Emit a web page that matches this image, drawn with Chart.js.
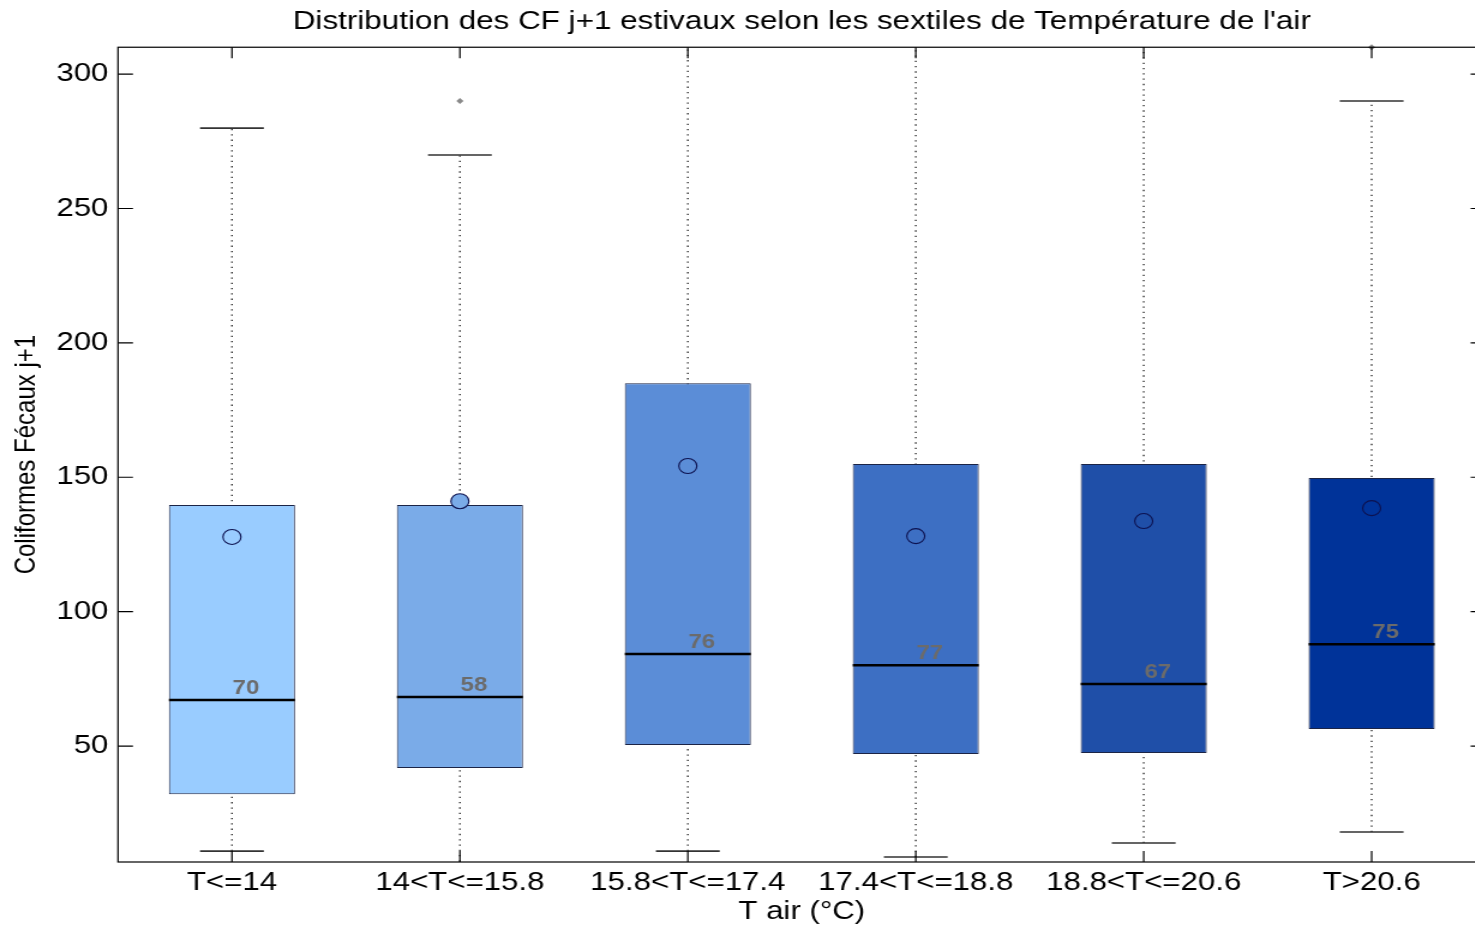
<!DOCTYPE html>
<html><head><meta charset="utf-8">
<script src="https://cdn.jsdelivr.net/npm/chart.js@4.4.1/dist/chart.umd.min.js"></script>
<style>
html,body{margin:0;padding:0;background:#fff;overflow:hidden;width:1475px;height:926px;}
#wrap{position:absolute;left:0;top:0;width:1250px;height:926px;transform:scaleX(1.2);transform-origin:0 0;}
</style></head><body>
<div id="wrap"><canvas id="c"></canvas></div>
<script>
const categories = ['T<=14','14<T<=15.8','15.8<T<=17.4','17.4<T<=18.8','18.8<T<=20.6','T>20.6'];
const whiskerLow  = [10.9, 5.0, 10.9, 8.7, 13.9, 18.0];
const q1          = [32.1, 41.8, 50.4, 47.0, 47.4, 56.3];
const median      = [67.1, 68.2, 84.2, 80.1, 73.1, 87.9];
const q3          = [139.7, 139.7, 185.0, 154.9, 154.9, 149.7];
const whiskerHigh = [279.9, 269.9, 330, 330, 330, 290.0];
const means       = [127.8, 141.1, 154.2, 128.1, 133.7, 138.5];
const counts      = [70, 58, 76, 77, 67, 75];
const outliers    = [[], [290], [], [], [], [310]];
const yTicks      = [50, 100, 150, 200, 250, 300];
const boxColors   = ['#99ccff', '#7aabe8', '#5b8dd7', '#3d6fc3', '#1f4fa8', '#003399'];

const BOX_HALF = 0.2765, CAP_HALF = 0.14, LABEL_SHIFT = 0.0615;

Chart.defaults.font.family = '"Liberation Sans", Arial, sans-serif';
Chart.defaults.color = '#000';

function hSegments(vals, half) {
  const pts = [];
  vals.forEach((v, i) => { pts.push({x: i + 1 - half, y: v}, {x: i + 1 + half, y: v}, {x: i + 1.5, y: null}); });
  return pts;
}
const whiskerPts = [];
categories.forEach((c, i) => { whiskerPts.push({x: i + 1, y: whiskerLow[i]}, {x: i + 1, y: whiskerHigh[i]}, {x: i + 1.5, y: null}); });
const capPts = hSegments(whiskerLow, CAP_HALF).concat(hSegments(whiskerHigh, CAP_HALF));
const medianPts = hSegments(median, BOX_HALF);
const boxPts = categories.map((c, i) => ({x: i + 1, y: [q1[i], q3[i]]}));
const meanPts = means.map((m, i) => ({x: i + 1, y: m}));
const outlierPts = outliers.flatMap((arr, i) => arr.map(v => ({x: i + 1, y: v})));

const frame = {
  id: 'frame',
  afterDatasetsDraw(chart) {
    const {ctx, chartArea: a, scales: {x, y}} = chart;
    ctx.save();
    ctx.font = 'bold 20px "Liberation Sans", Arial, sans-serif';
    ctx.fillStyle = '#6b6b6b';
    ctx.textAlign = 'center';
    ctx.textBaseline = 'alphabetic';
    counts.forEach((n, i) => {
      ctx.fillText(String(n), x.getPixelForValue(i + 1 + LABEL_SHIFT), y.getPixelForValue(median[i]) - 6);
    });
    ctx.strokeStyle = '#000';
    ctx.lineWidth = 1.2;
    ctx.strokeRect(a.left, a.top, a.right - a.left, a.bottom - a.top);
    ctx.beginPath();
    yTicks.forEach(v => {
      const py = y.getPixelForValue(v);
      ctx.moveTo(a.left, py); ctx.lineTo(a.left + 12.5, py);
      ctx.moveTo(a.right, py); ctx.lineTo(a.right - 12.5, py);
    });
    categories.forEach((c, i) => {
      const px = x.getPixelForValue(i + 1);
      ctx.moveTo(px, a.bottom); ctx.lineTo(px, a.bottom - 11);
      ctx.moveTo(px, a.top); ctx.lineTo(px, a.top + 11);
    });
    ctx.stroke();
    ctx.restore();
  }
};

new Chart(document.getElementById('c'), {
  type: 'bar',
  data: {
    datasets: [
      {type: 'line', data: whiskerPts, borderColor: '#222', borderWidth: 1.3, borderDash: [1.3, 4],
       pointRadius: 0, spanGaps: false, fill: false, order: 5},
      {type: 'bar', data: boxPts, backgroundColor: boxColors, borderColor: '#1b2446', borderWidth: 1,
       borderSkipped: false, barPercentage: 2 * BOX_HALF, categoryPercentage: 1, order: 4},
      {type: 'line', data: capPts, borderColor: '#333', borderWidth: 1.6, pointRadius: 0, spanGaps: false, fill: false, order: 3},
      {type: 'line', data: medianPts, borderColor: '#000', borderWidth: 2.5, pointRadius: 0, spanGaps: false, fill: false, order: 2},
      {type: 'line', data: meanPts, showLine: false, pointRadius: 7.5, pointStyle: 'circle',
       pointBackgroundColor: boxColors, pointBorderColor: '#0d1250', pointBorderWidth: 1.1, order: 1},
      {type: 'line', data: outlierPts, showLine: false, pointRadius: 3, pointStyle: 'rectRot',
       pointBackgroundColor: '#8a8a8a', pointBorderColor: '#8a8a8a', pointBorderWidth: 0, clip: false, order: 1}
    ]
  },
  options: {
    responsive: true,
    maintainAspectRatio: false,
    animation: false,
    layout: {padding: {left: 0, right: 12, top: 0, bottom: 0}},
    plugins: {
      legend: {display: false},
      tooltip: {enabled: false},
      title: {display: true, fullSize: false,
        text: "Distribution des CF j+1 estivaux selon les sextiles de Température de l'air",
        font: {size: 26.2, weight: 'normal'}, color: '#000', padding: {top: 6.4, bottom: 9.4}}
    },
    scales: {
      x: {type: 'linear', min: 0.5, max: 6.5, offset: false,
        grid: {display: false}, border: {display: false},
        afterBuildTicks: s => { s.ticks = categories.map((c, i) => ({value: i + 1})); },
        afterFit: s => { s.height = 64; },
        ticks: {autoSkip: false, maxRotation: 0, padding: -3, font: {size: 26},
          callback: v => categories[Math.round(v) - 1]},
        title: {display: true, text: 'T air (°C)', font: {size: 26}, padding: {top: 0, bottom: -1.5}}
      },
      y: {type: 'linear', min: 6.85, max: 310,
        grid: {display: false}, border: {display: false},
        afterBuildTicks: s => { s.ticks = yTicks.map(v => ({value: v})); },
        afterFit: s => { s.width = 98.3; },
        ticks: {padding: 0, font: {size: 26}},
        title: {display: true, text: 'Coliformes Fécaux j+1', font: {size: 24}, padding: {top: 8, bottom: 0}}
      }
    }
  },
  plugins: [frame]
});
</script>
</body></html>
